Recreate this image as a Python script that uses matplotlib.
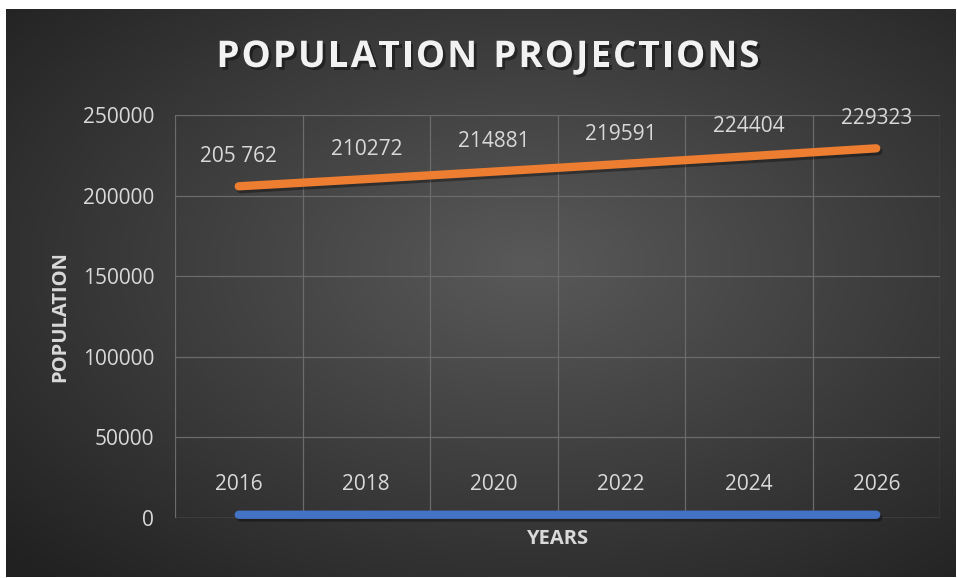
import numpy as np
import matplotlib
matplotlib.use("Agg")
import matplotlib.pyplot as plt
import matplotlib.patheffects as pe

# ---- data ----
years = [2016, 2018, 2020, 2022, 2024, 2026]
year_labels = ["2016", "2018", "2020", "2022", "2024", "2026"]
population = [205762, 210272, 214881, 219591, 224404, 229323]
population_labels = ["205 762", "210272", "214881", "219591", "224404", "229323"]
y_ticks = [0, 50000, 100000, 150000, 200000, 250000]
title = "POPULATION PROJECTIONS"

W, H = 957, 578
fig = plt.figure(figsize=(W / 100, H / 100), dpi=100)
fig.patch.set_facecolor("white")

# dark radial gradient background
bx0, by0, bx1, by1 = 6, 9, 956, 577
bg = fig.add_axes([bx0 / W, 1 - by1 / H, (bx1 - bx0) / W, (by1 - by0) / H])
yy, xx = np.mgrid[0:1:300j, 0:1:500j]
r = np.sqrt(((xx - 0.55) / 0.75) ** 2 + ((yy - 0.45) / 0.75) ** 2)
v = np.clip(0.35 - 0.22 * r, 0.13, 1)
img = np.dstack([v, v, v])
bg.imshow(img, aspect="auto", extent=[0, 1, 0, 1], interpolation="bilinear")
bg.set_axis_off()

# plot area
px0, py0, px1, py1 = 175, 115, 940, 518
ax = fig.add_axes([px0 / W, 1 - py1 / H, (px1 - px0) / W, (py1 - py0) / H])
ax.patch.set_alpha(0)
x = np.arange(len(years))
ax.set_xlim(-0.5, len(years) - 0.5)
ax.set_ylim(0, 250000)
ax.set_yticks(y_ticks)
ax.set_yticklabels([str(t) for t in y_ticks])
ax.set_xticks(np.arange(-0.5, len(years), 1.0))
ax.set_xticklabels([])
ax.tick_params(axis="both", length=0)
ax.tick_params(axis="y", labelsize=15, labelcolor="#d9d9d9", pad=15)
for lab in ax.get_yticklabels():
    lab.set_fontfamily("Open Sans")
ax.grid(True, color="#6b6b6b", linewidth=0.9)
for s in ax.spines.values():
    s.set_visible(False)
ax.axhline(0, color="#6b6b6b", linewidth=0.9)

shadow = [pe.SimpleLineShadow(offset=(1.5, -2), shadow_color="black", alpha=0.35), pe.Normal()]
ax.plot(x, years, color="#4472c4", linewidth=6, solid_capstyle="round",
        path_effects=shadow, zorder=3, clip_on=False)
ax.plot(x, population, color="#ed7d31", linewidth=6, solid_capstyle="round",
        path_effects=shadow, zorder=3, clip_on=False)

for xi, yv, lab in zip(x, years, year_labels):
    ax.annotate(lab, (xi, yv), xytext=(0, 30), textcoords="offset pixels",
                ha="center", va="center", fontsize=15, color="#d9d9d9",
                fontfamily="Open Sans")
for xi, yv, lab in zip(x, population, population_labels):
    ax.annotate(lab, (xi, yv), xytext=(0, 30), textcoords="offset pixels",
                ha="center", va="center", fontsize=15, color="#d9d9d9",
                fontfamily="Open Sans")

# title with letter spacing, characters placed one by one
renderer = fig.canvas.get_renderer()
tkw = dict(fontsize=26.5, fontweight="bold", color="#f2f2f2", fontfamily="Open Sans",
           va="center", ha="left",
           path_effects=[pe.SimplePatchShadow(offset=(2, -2), shadow_rgbFace="black", alpha=0.4), pe.Normal()])
spacing = 2.1
widths = []
for ch in title:
    t = fig.text(0, 0, ch if ch != " " else "a", **tkw)
    widths.append(t.get_window_extent(renderer).width if ch != " " else t.get_window_extent(renderer).width * 0.55)
    t.remove()
total = sum(widths) + spacing * (len(title) - 1)
cx = 488 - total / 2
for ch, w in zip(title, widths):
    if ch != " ":
        fig.text(cx / W, 1 - 57 / H, ch, **tkw)
    cx += w + spacing

fig.text(60 / W, 1 - 317 / H, "POPULATION", rotation=90, ha="center", va="center",
         fontsize=14.5, fontweight="bold", color="#d9d9d9", fontfamily="Open Sans")
fig.text(557 / W, 1 - 539 / H, "YEARS", ha="center", va="center",
         fontsize=14.5, fontweight="bold", color="#d9d9d9", fontfamily="Open Sans")

fig.savefig("out.png", dpi=100, facecolor=fig.get_facecolor())
